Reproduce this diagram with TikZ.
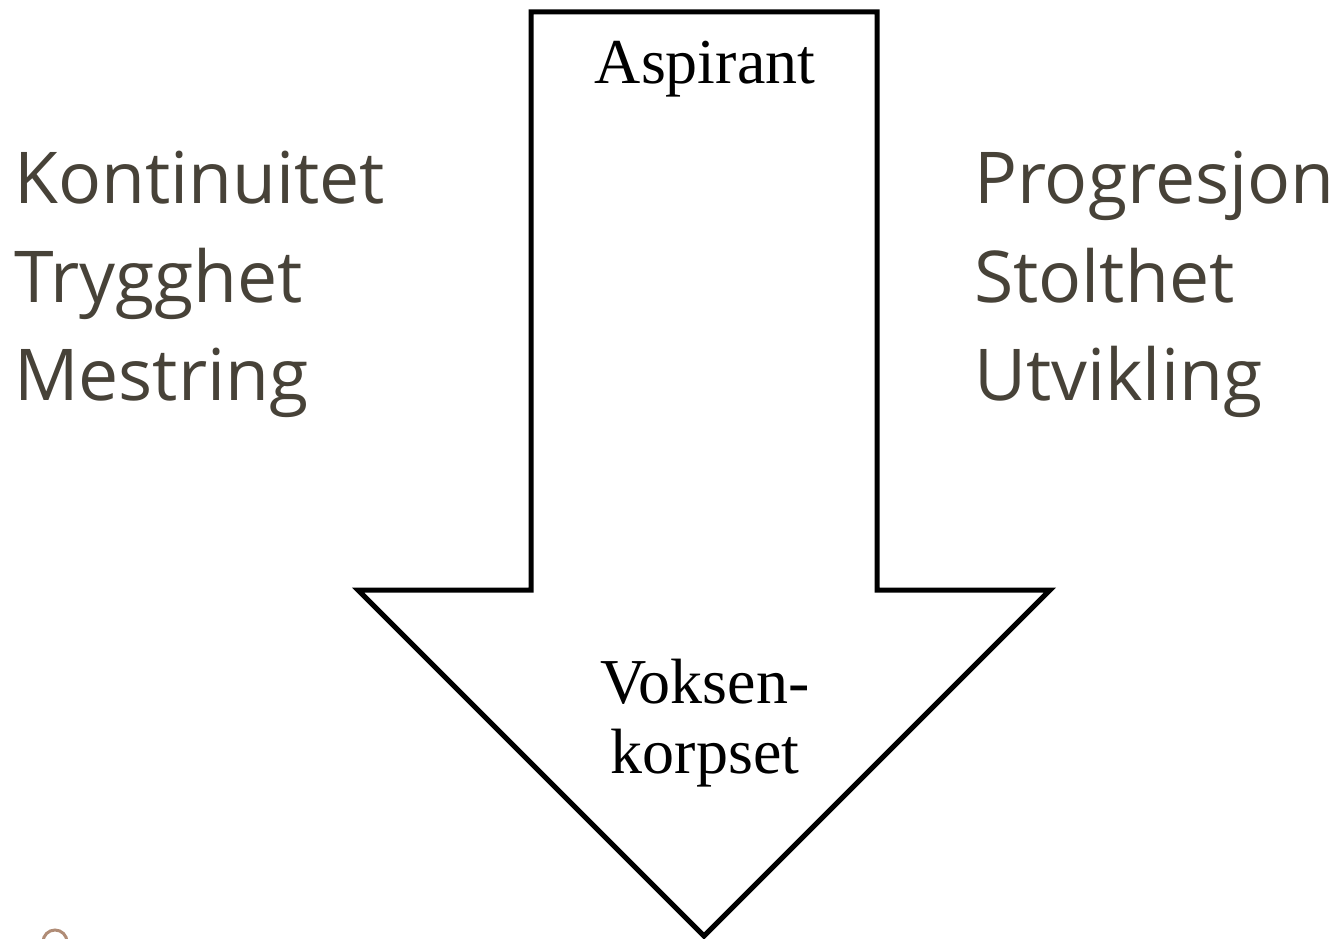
\documentclass[tikz,border=0pt]{standalone}
\usepackage{fontspec}
\setmainfont{Liberation Serif}
\newfontfamily\sidefont{Open Sans}
\definecolor{sidetext}{RGB}{71,66,56}
\definecolor{logobrown}{RGB}{176,140,118}
\tikzset{
  sidelabel/.style={anchor=base west, inner sep=0pt, text=sidetext, font=\sidefont\fontsize{71.5}{80}\selectfont},
  arrowlabel/.style={anchor=base, inner sep=0pt, text=black, font=\fontsize{64}{70}\selectfont, align=center},
  bigarrow/.style={draw=black, line width=5pt, line join=miter, fill=white}
}
\begin{document}
\begin{tikzpicture}[x=1pt,y=-1pt]
\useasboundingbox (0,0) rectangle (1333,939);
\clip (0,0) rectangle (1333,939);
% big down arrow
\draw[bigarrow] (531,12) -- (877,12) -- (877,590) -- (1050,590) -- (704,936) -- (358,590) -- (531,590) -- cycle;
\node[arrowlabel] (asp) at (705,84) {Aspirant};
\node[arrowlabel] (vok) at (705,703) {Voksen-};
\node[arrowlabel] (kor) at (705,773) {korpset};
% left column
\node[sidelabel] (k1) at (14,203) {Kontinuitet};
\node[sidelabel] (k2) at (14,302) {Trygghet};
\node[sidelabel] (k3) at (14,400) {Mestring};
% right column
\node[sidelabel] (p1) at (974,203) {Progresjon};
\node[sidelabel] (p2) at (974,302) {Stolthet};
\node[sidelabel] (p3) at (974,400) {Utvikling};
% logo fragment
\draw[logobrown, line width=3pt] (55,942) circle (12);
\end{tikzpicture}
\end{document}
